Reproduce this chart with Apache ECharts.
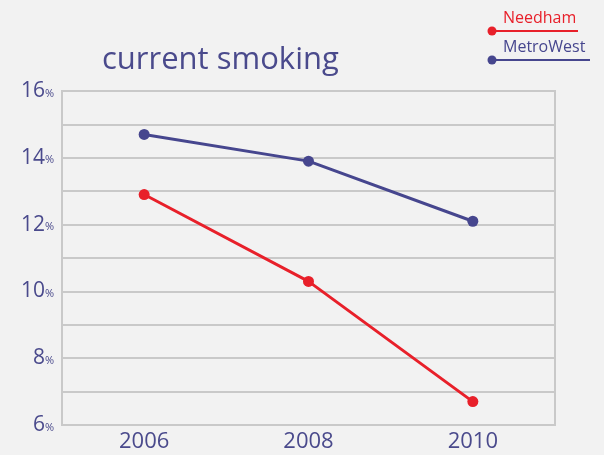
<!DOCTYPE html>
<html><head><meta charset="utf-8">
<script src="https://cdn.jsdelivr.net/npm/echarts@6/dist/echarts.min.js"></script>
<style>html,body{margin:0;padding:0;background:#f2f2f2}#c{width:604px;height:455px}</style>
</head><body><div id="c"></div>
<script>
const years = ['2006', '2008', '2010'];
const needham = [12.9, 10.3, 6.7];
const metroWest = [14.7, 13.9, 12.1];
const seriesNames = ['Needham', 'MetroWest'];
const titleText = 'current smoking';

const RED = '#e8202a', NAVY = '#46468e', TXT = '#4a4a8c', GRID = '#c9c9c9';
const FONT = 'Open Sans';
const chart = echarts.init(document.getElementById('c'));
chart.setOption({
  backgroundColor: '#f2f2f2',
  animation: false,
  title: { text: titleText, left: 97, top: 40, textStyle: { fontFamily: FONT, fontSize: 31, fontWeight: 'normal', color: TXT } },
  grid: { left: 62, right: 49, top: 91, bottom: 30, show: true, borderColor: GRID, borderWidth: 2, backgroundColor: 'transparent' },
  xAxis: {
    type: 'category', data: years, boundaryGap: true,
    axisLine: { lineStyle: { color: GRID, width: 2 } }, axisTick: { show: false },
    axisLabel: { color: TXT, fontFamily: FONT, fontSize: 22, margin: 6 }
  },
  yAxis: {
    type: 'value', min: 6, max: 16, interval: 1,
    axisLine: { show: true, lineStyle: { color: GRID, width: 2 } }, axisTick: { show: false },
    splitLine: { lineStyle: { color: GRID, width: 2 } },
    axisLabel: {
      margin: 8,
      formatter: v => (v % 2 === 0 ? '{n|' + v + '}{p|%}' : ''),
      rich: { n: { color: TXT, fontFamily: FONT, fontSize: 21 }, p: { color: TXT, fontFamily: FONT, fontSize: 11, padding: [5, 0, 0, 0] } }
    }
  },
  series: [
    { name: seriesNames[0], type: 'line', data: needham, symbol: 'circle', symbolSize: 11, lineStyle: { color: RED, width: 3 }, itemStyle: { color: RED } },
    { name: seriesNames[1], type: 'line', data: metroWest, symbol: 'circle', symbolSize: 11, lineStyle: { color: NAVY, width: 3 }, itemStyle: { color: NAVY } }
  ],
  graphic: [
    { type: 'line', shape: { x1: 492, y1: 31, x2: 578, y2: 31 }, style: { stroke: RED, lineWidth: 2 } },
    { type: 'circle', shape: { cx: 492, cy: 31, r: 4.5 }, style: { fill: RED } },
    { type: 'text', left: 503, top: 10, style: { text: seriesNames[0], fill: RED, font: '16px ' + FONT } },
    { type: 'line', shape: { x1: 492, y1: 60, x2: 590, y2: 60 }, style: { stroke: NAVY, lineWidth: 2 } },
    { type: 'circle', shape: { cx: 492, cy: 60, r: 4.5 }, style: { fill: NAVY } },
    { type: 'text', left: 503, top: 39, style: { text: seriesNames[1], fill: NAVY, font: '16px ' + FONT } }
  ]
});
</script></body></html>
